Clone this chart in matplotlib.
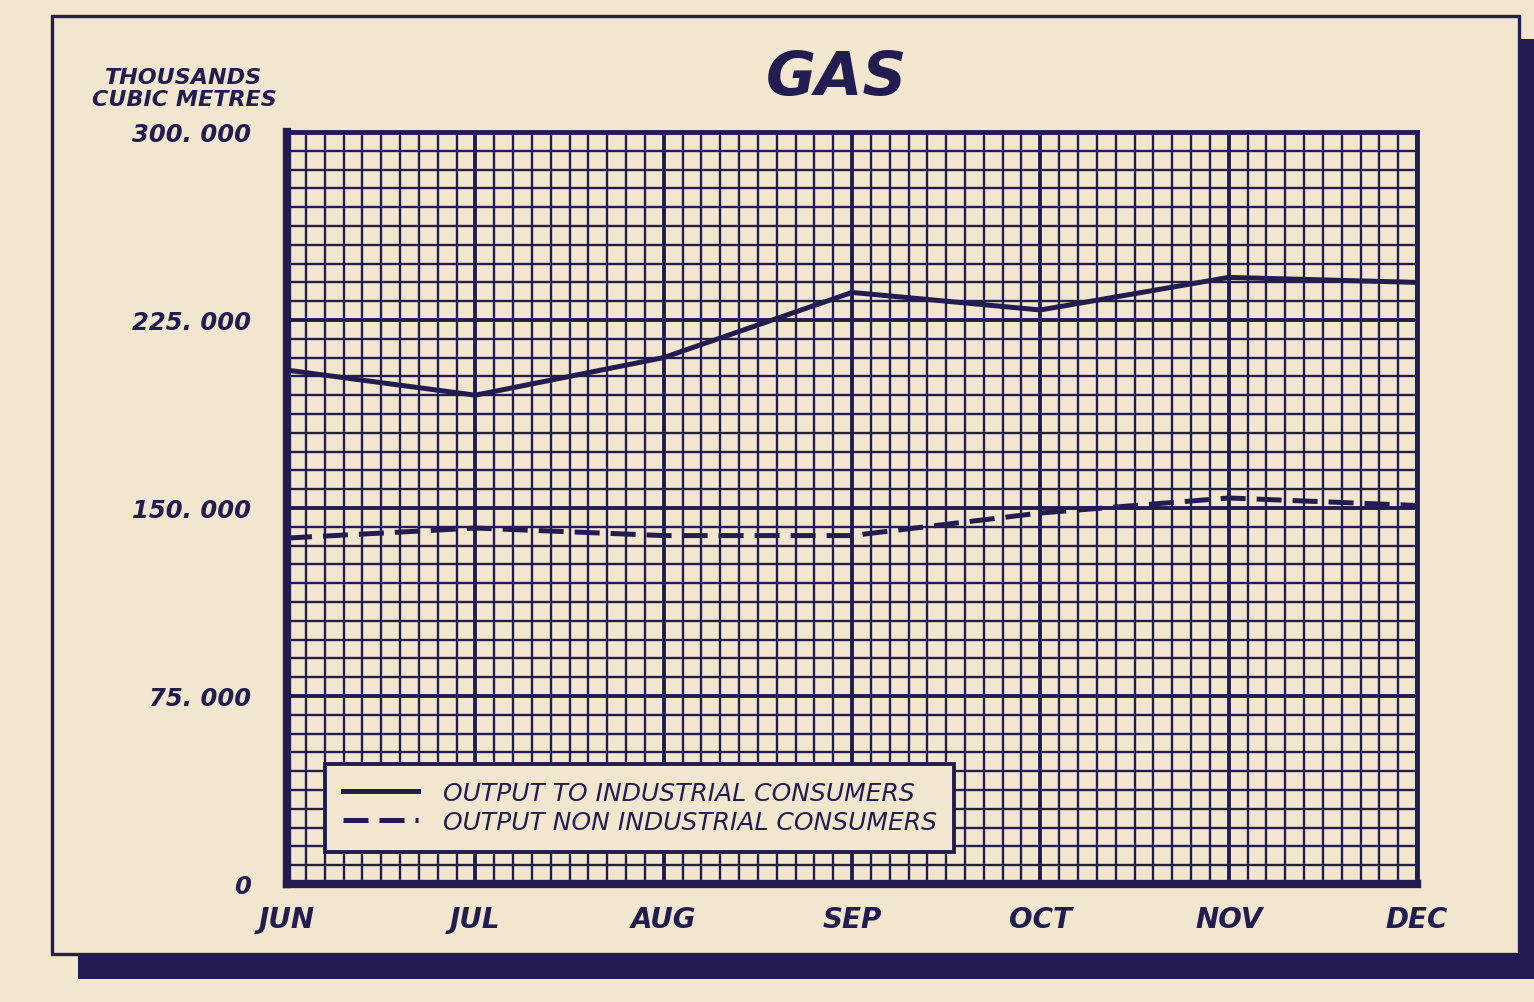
import matplotlib
matplotlib.use("Agg")
import matplotlib.pyplot as plt
from matplotlib.patches import Rectangle
from matplotlib.ticker import MultipleLocator

# data (thousands of cubic metres)
months = ["JUN", "JUL", "AUG", "SEP", "OCT", "NOV", "DEC"]
industrial = [205000, 195000, 210000, 236000, 229000, 242000, 240000]
non_industrial = [138000, 142000, 139000, 139000, 148000, 154000, 151000]
y_ticks = [0, 75000, 150000, 225000, 300000]
y_labels = ["0", "75. 000", "150. 000", "225. 000", "300. 000"]

ink = "#221d50"
paper = "#f3e6cf"

fig = plt.figure(figsize=(15.34, 10.03), dpi=100)
fig.patch.set_facecolor(paper)

# card with shadow
fig.patches.append(Rectangle((78 / 1534, 1 - 980 / 1003), 1.0, (980 - 40) / 1003,
                             transform=fig.transFigure, facecolor=ink,
                             edgecolor="none", zorder=0))
fig.patches.append(Rectangle((52 / 1534, 1 - 955 / 1003), (1519 - 52) / 1534, (955 - 17) / 1003,
                             transform=fig.transFigure, facecolor=paper,
                             edgecolor=ink, linewidth=2.4, zorder=1))

ax = fig.add_axes([287 / 1534, 1 - 885 / 1003, 1130 / 1534, 752 / 1003])
ax.set_facecolor(paper)
ax.set_zorder(2)
x = list(range(len(months)))
ax.set_xlim(0, len(months) - 1)
ax.set_ylim(0, 300000)

# graph-paper grid
ax.xaxis.set_major_locator(MultipleLocator(1))
ax.xaxis.set_minor_locator(MultipleLocator(0.1))
ax.yaxis.set_major_locator(MultipleLocator(75000))
ax.yaxis.set_minor_locator(MultipleLocator(7500))
ax.grid(which="minor", color=ink, linewidth=1.7, zorder=1)
ax.grid(which="major", color=ink, linewidth=2.8, zorder=1)
ax.set_axisbelow(True)

ax.plot(x, industrial, color=ink, linewidth=3.6, zorder=3,
        label="OUTPUT TO INDUSTRIAL CONSUMERS")
ax.plot(x, non_industrial, color=ink, linewidth=3.6, dashes=(5, 2.2), zorder=3,
        label="OUTPUT NON INDUSTRIAL CONSUMERS")

for s in ax.spines.values():
    s.set_color(ink)
ax.spines["left"].set_linewidth(6)
ax.spines["bottom"].set_linewidth(6)
ax.spines["top"].set_linewidth(3.5)
ax.spines["right"].set_linewidth(3.5)

ax.set_xticks(x)
ax.set_xticklabels(months, fontsize=20, fontweight="heavy", fontstyle="oblique", color=ink)
ax.set_yticks(y_ticks)
ax.set_yticklabels(y_labels, fontsize=17.5, fontweight="bold", fontstyle="oblique", color=ink)
ax.tick_params(which="both", length=0)
ax.tick_params(axis="x", pad=15)
ax.tick_params(axis="y", pad=26)

leg = ax.legend(loc="lower left", bbox_to_anchor=(0.034, 0.043), borderaxespad=0,
                frameon=True, fancybox=False, framealpha=1,
                facecolor=paper, edgecolor=ink, handlelength=3.0,
                handletextpad=1.0, borderpad=0.7, labelspacing=0.2,
                prop={"size": 18, "style": "oblique"})
leg.get_frame().set_linewidth(2.8)
for t in leg.get_texts():
    t.set_color(ink)
leg.set_zorder(5)

fig.text(836 / 1534, 1 - 79 / 1003, "GAS", fontsize=44, fontweight="heavy",
         fontstyle="oblique", color=ink, ha="center", va="center")
fig.text(184 / 1534, 1 - 89 / 1003, "THOUSANDS\nCUBIC METRES", fontsize=16,
         fontweight="bold", fontstyle="oblique", color=ink, ha="center", va="center",
         multialignment="center", linespacing=1.1)

fig.savefig("out.png", dpi=100, facecolor=paper)
